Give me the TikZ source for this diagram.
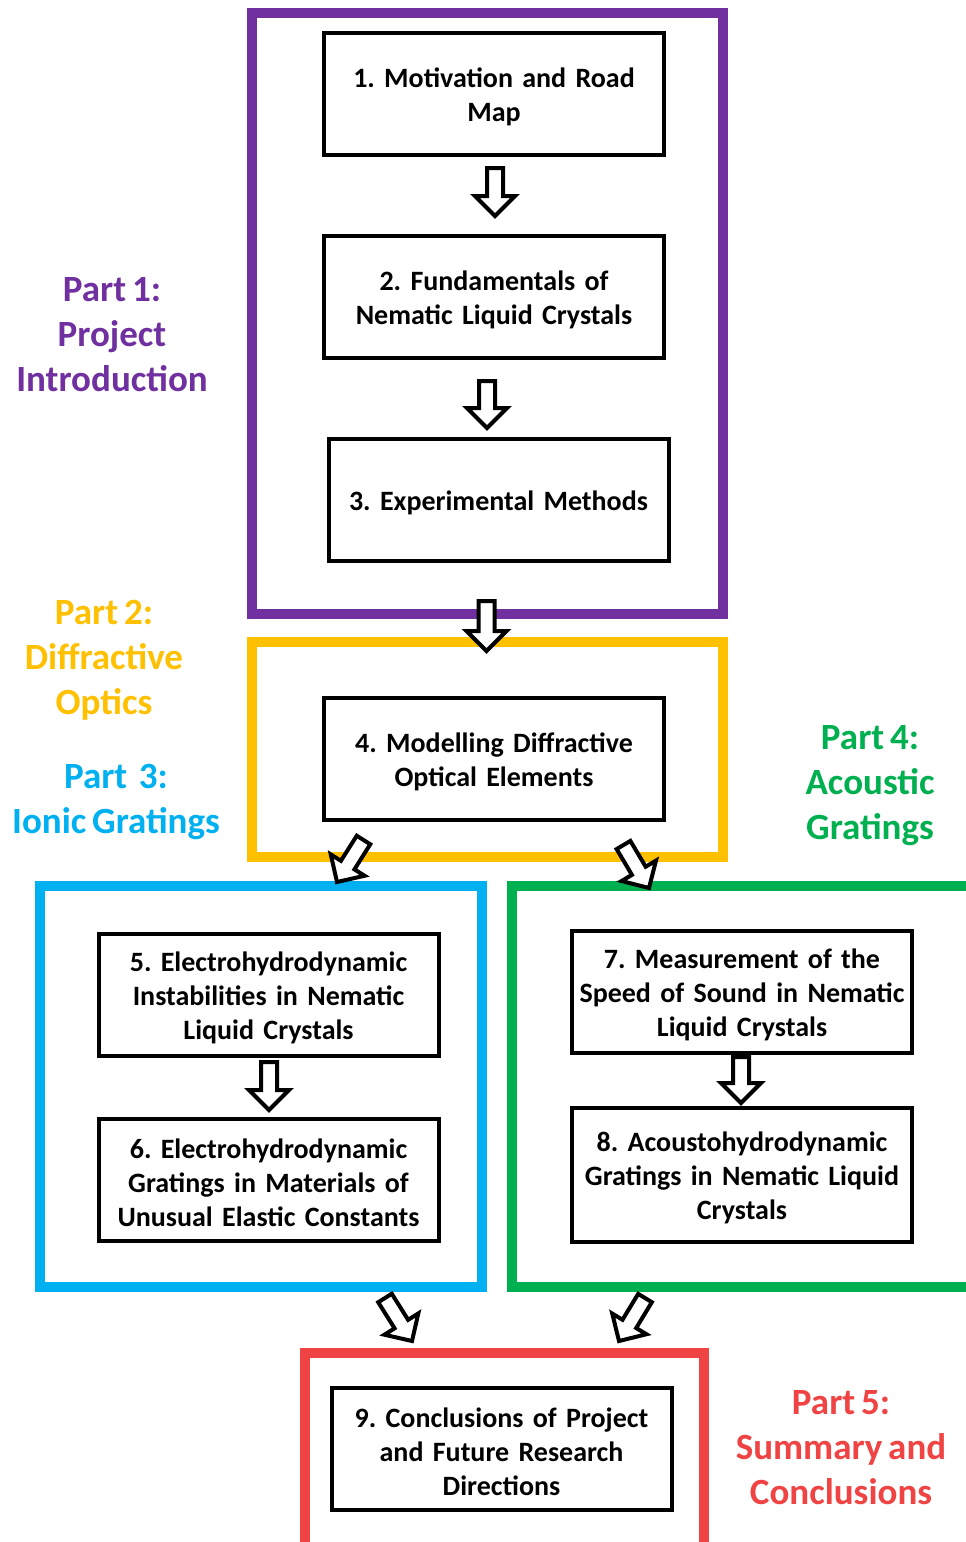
\documentclass[tikz,border=0pt]{standalone}
\usepackage{fontspec}
\setmainfont{Carlito}[WordSpace={0.7}]
\frenchspacing
\usetikzlibrary{calc}
\definecolor{cpurple}{HTML}{7030A0}
\definecolor{cyellow}{HTML}{FFC000}
\definecolor{cblue}{HTML}{00B0F0}
\definecolor{cgreen}{HTML}{00B050}
\definecolor{cred}{HTML}{F04444}
\tikzset{
  box/.style={draw=black, line width=4pt, minimum width=340pt, minimum height=122pt, inner sep=0pt},
  boxtext/.style={text width=336pt, align=center, inner sep=0pt,
    font=\fontsize{28}{34}\selectfont\bfseries},
  frame/.style={line width=10pt},
  partlabel/.style={align=center, inner sep=0pt, font=\fontsize{37}{45}\selectfont\bfseries},
  blockarr/.style={draw=black, fill=white, line width=4pt, line join=miter},
}
\newcommand\barrow[2]{%
  \path let \p1=($(#2)-(#1)$) in \pgfextra{%
    \pgfmathsetmacro\tmpang{atan2(\y1,\x1)}\global\let\baang\tmpang
    \pgfmathsetmacro\tmplen{veclen(\x1,\y1)}\global\let\balen\tmplen};
  \draw[blockarr, shift={(#1)}, rotate=\baang]
    (0,-8) -- ({\balen-20},-8) -- ({\balen-20},-20) -- (\balen,0)
    -- ({\balen-20},20) -- ({\balen-20},8) -- (0,8) -- cycle;
}
\newcommand\tbox[4][]{% name, position, text
  \node[box,#1] (#2) at (#3) {};
  \node[boxtext] (#2t) at ($(#2.center)+(0,3)$) {#4};
}
\begin{document}
\begin{tikzpicture}[x=1pt,y=-1pt]
\useasboundingbox (0,0) rectangle (966,1542);
\clip (0,0) rectangle (966,1542);
\fill[white] (0,0) rectangle (966,1542);

% frames
\draw[frame, cpurple] (252,13) rectangle (723,614);
\draw[frame, cyellow] (252,642) rectangle (723,857);
\draw[frame, cblue] (40,886) rectangle (482,1287);
\draw[frame, cgreen] (512,886) rectangle (1000,1287);
\draw[frame, cred] (305,1353) rectangle (704,1600);

% boxes
\tbox{b1}{494,94}{1. Motivation and Road\\Map}
\tbox{b2}{494,297}{2. Fundamentals of\\Nematic Liquid Crystals}
\tbox{b3}{498.5,500}{3. Experimental Methods}
\tbox{b4}{494,759}{4. Modelling Diffractive\\Optical Elements}
\tbox{b5}{268.5,994.5}{5. Electrohydrodynamic\\Instabilities in Nematic\\Liquid Crystals}
\tbox{b6}{268.5,1180}{6. Electrohydrodynamic\\Gratings in Materials of\\Unusual Elastic Constants}
\tbox{b7}{742,991.5}{7. Measurement of the\\Speed of Sound in Nematic\\Liquid Crystals}
\tbox[minimum height=134pt]{b8}{742,1175}{8. Acoustohydrodynamic\\Gratings in Nematic Liquid\\Crystals}
\tbox{b9}{501.5,1449}{9. Conclusions of Project\\and Future Research\\Directions}

% part labels
\node[partlabel, text=cpurple] (l1) at (112,335) {Part 1:\\Project\\Introduction};
\node[partlabel, text=cyellow] (l2) at (104,660) {Part 2:\\Diffractive\\Optics};
\node[partlabel, text=cblue] (l3) at (116,802) {Part~ 3:\\Ionic Gratings};
\node[partlabel, text=cgreen] (l4) at (870,786) {Part 4:\\Acoustic\\Gratings};
\node[partlabel, text=cred] (l5) at (841,1448) {Part 5:\\Summary and\\Conclusions};

% arrow end points
\coordinate (a1s) at (495,168);  \coordinate (a1e) at (495,216);
\coordinate (a2s) at (487,381);  \coordinate (a2e) at (487,428);
\coordinate (a3s) at (486.5,601); \coordinate (a3e) at (486.5,651);
\coordinate (a4s) at (363.5,840); \coordinate (a4e) at (337,882);
\coordinate (a5s) at (623.5,845); \coordinate (a5e) at (649,888);
\coordinate (a6s) at (385,1298); \coordinate (a6e) at (412,1341);
\coordinate (a7s) at (645,1298); \coordinate (a7e) at (619,1341);
\coordinate (a8s) at (269,1062); \coordinate (a8e) at (269,1110);
\coordinate (a9s) at (741,1057); \coordinate (a9e) at (741,1103);

\barrow{a1s}{a1e}
\barrow{a2s}{a2e}
\barrow{a3s}{a3e}
\barrow{a4s}{a4e}
\barrow{a5s}{a5e}
\barrow{a6s}{a6e}
\barrow{a7s}{a7e}
\barrow{a8s}{a8e}
\barrow{a9s}{a9e}
\end{tikzpicture}
\end{document}
